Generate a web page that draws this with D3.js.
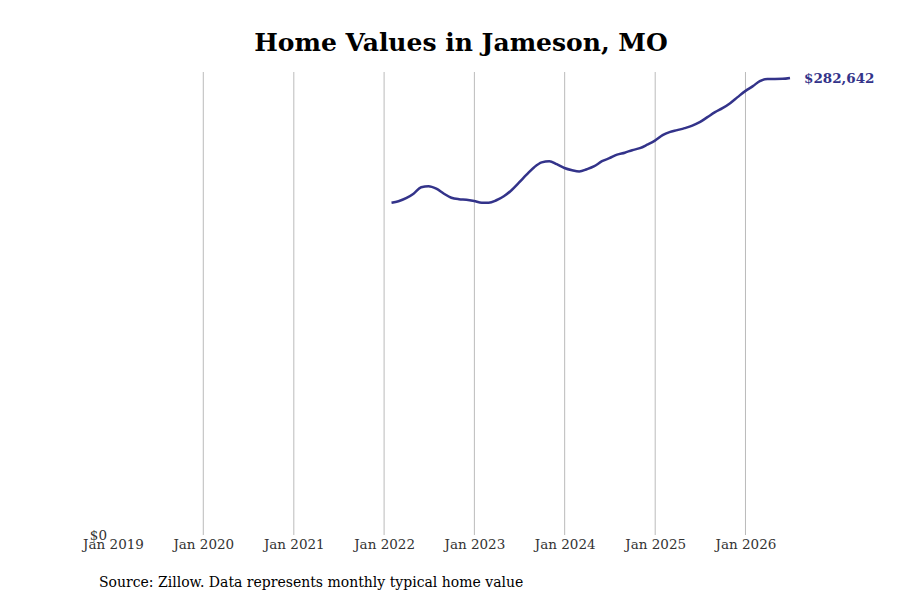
<!DOCTYPE html>
<html>
<head>
<meta charset="utf-8">
<script src="https://cdn.jsdelivr.net/npm/d3@7"></script>
<style>
  body { margin: 0; background: #fff; }
  text { font-family: "DejaVu Serif", serif; }
</style>
</head>
<body>
<div id="chart"></div>
<script>
// monthly typical home value, month-end dates Jan 2022 - Jun 2026
var startMonth = "2022-01-31";
var values = [
  205470, 206400, 208260, 211050, 215070, 215690, 214140, 211050, 208570, 207640, 207330, 206530,
  205470, 205470, 207020, 209500, 213210, 217850, 222800, 227450, 230420, 231160, 229300, 226950,
  225590, 224850, 226210, 228070, 231160, 233020, 235180, 236420, 237970, 239210, 241370, 243850,
  247250, 249110, 250350, 251590, 253130, 255300, 258390, 261490, 263960, 267060, 270770, 274480,
  277580, 280670, 282030, 282030, 282100, 282642
];
var tickYears = [2019, 2020, 2021, 2022, 2023, 2024, 2025, 2026];
var lineColor = "#33338a";

var width = 900, height = 600;
var plotLeft = 113, plotRight = 790, plotTop = 72, plotBottom = 535;

var svg = d3.select("#chart")
	.append("svg")
	.attr("width", width)
	.attr("height", height)

var parse = d3.timeParse("%Y-%m-%d");
var first = parse(startMonth);
var data = values.map(function(v, i) {
	// last day of each month
	var d = new Date(first.getFullYear(), first.getMonth() + i + 1, 0);
	return {date: d, value: v};
});

var x = d3.scaleTime()
	.domain([new Date(2019, 0, 1), data[data.length - 1].date])
	.range([plotLeft, plotRight]);

var y = d3.scaleLinear()
	.domain([0, d3.max(values) * 1.013])
	.range([plotBottom, plotTop]);

svg.append("text")
	.attr("x", 461)
	.attr("y", 51)
	.attr("text-anchor", "middle")
	.attr("font-size", 25)
	.attr("font-weight", "bold")
	.attr("fill", "#000")
	.text("Home Values in Jameson, MO");

// vertical grid lines (none at the first tick)
svg.selectAll(".grid")
	.data(tickYears.slice(1))
	.enter()
		.append("line")
		.attr("class", "grid")
		.attr("x1", function(d){return x(new Date(d, 0, 1));})
		.attr("x2", function(d){return x(new Date(d, 0, 1));})
		.attr("y1", plotTop)
		.attr("y2", plotBottom)
		.attr("stroke", "#bbb")
		.attr("stroke-width", 1)

var xAxis = d3.axisBottom(x)
	.tickValues(tickYears.map(function(d){return new Date(d, 0, 1);}))
	.tickFormat(d3.timeFormat("Jan %Y"))
	.tickSize(0)
	.tickPadding(4);

var gx = svg.append("g")
	.attr("transform", "translate(0," + plotBottom + ")")
	.call(xAxis);
gx.select(".domain").remove();
gx.selectAll("text")
	.attr("font-family", "DejaVu Serif, serif")
	.attr("font-size", 13.5)
	.attr("fill", "#333");

var yAxis = d3.axisLeft(y)
	.tickValues([0])
	.tickFormat(function(d){return "$" + d3.format(",")(d);})
	.tickSize(0)
	.tickPadding(6);

var gy = svg.append("g")
	.attr("transform", "translate(" + plotLeft + ",0)")
	.call(yAxis);
gy.select(".domain").remove();
gy.selectAll("text")
	.attr("font-family", "DejaVu Serif, serif")
	.attr("font-size", 13.5)
	.attr("fill", "#333");

var line = d3.line()
	.x(function(d){return x(d.date);})
	.y(function(d){return y(d.value);})
	.curve(d3.curveMonotoneX);

svg.append("path")
	.datum(data)
	.attr("d", line)
	.attr("fill", "none")
	.attr("stroke", lineColor)
	.attr("stroke-width", 2.5)

var last = data[data.length - 1];
svg.append("text")
	.attr("x", x(last.date) + 14)
	.attr("y", y(last.value))
	.attr("dy", "0.35em")
	.attr("font-size", 13.5)
	.attr("font-weight", "bold")
	.attr("fill", lineColor)
	.text("$" + d3.format(",")(last.value));

svg.append("text")
	.attr("x", 99)
	.attr("y", 587)
	.attr("font-size", 14)
	.attr("fill", "#000")
	.text("Source: Zillow. Data represents monthly typical home value");
</script>
</body>
</html>
